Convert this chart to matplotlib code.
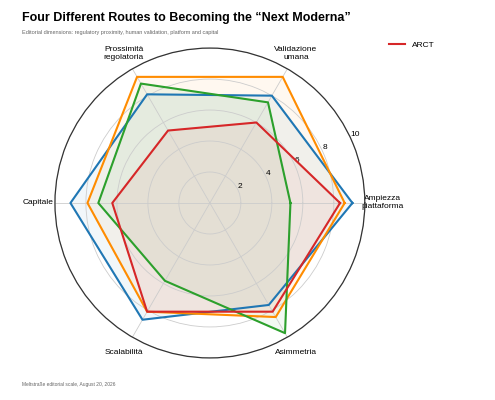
import matplotlib
matplotlib.use('Agg')
import matplotlib.pyplot as plt
import numpy as np

plt.rcParams['font.family'] = ['Liberation Sans', 'DejaVu Sans']

axes_labels = ['Ampiezza\npiattaforma', 'Validazione\numana', 'Prossimità\nregolatoria',
               'Capitale', 'Scalabilità', 'Asimmetria']
series_names = ['ARCT', 'B', 'C', 'D']
arct = [8.4, 6.0, 5.4, 6.3, 8.1, 8.1]
blue = [9.2, 8.0, 8.1, 9.0, 8.7, 7.6]
orange = [8.7, 9.4, 9.4, 7.9, 8.1, 8.5]
green = [5.2, 7.5, 8.9, 7.2, 5.8, 9.7]
colors = ['#d62728', '#1f77b4', '#ff8c00', '#2ca02c']

angles = np.deg2rad(np.arange(0, 360, 60))
fig = plt.figure(figsize=(4.95, 4.0), dpi=100)
ax = fig.add_axes([0.111, 0.105, 0.626, 0.775], polar=True)

closed = np.append(angles, angles[0])
for name, vals, c in [('B', blue, colors[1]), ('C', orange, colors[2]),
                      ('D', green, colors[3]), ('ARCT', arct, colors[0])]:
    v = np.append(vals, vals[0])
    ax.plot(closed, v, color=c, lw=1.5, label=name if name == 'ARCT' else None)
    ax.fill(closed, v, color=c, alpha=0.06)

ax.set_ylim(0, 10)
ax.set_yticks([2, 4, 6, 8, 10])
ax.set_yticklabels(['2', '4', '6', '8', '10'], fontsize=6)
ax.set_rlabel_position(25)
ax.set_xticks(angles)
ax.set_xticklabels(axes_labels, fontsize=6)
ax.tick_params(axis='x', pad=2)
ax.grid(color='#cccccc', lw=0.6)
ax.spines['polar'].set_color('#333333')
ax.spines['polar'].set_linewidth(0.9)

fig.legend(loc='upper left', bbox_to_anchor=(0.77, 0.915), frameon=False, fontsize=6)
fig.text(0.045, 0.97, 'Four Different Routes to Becoming the \u201cNext Moderna\u201d',
         fontsize=9, fontweight='bold', va='top')
fig.text(0.045, 0.925, 'Editorial dimensions: regulatory proximity, human validation, platform and capital',
         fontsize=4, color='#666666', va='top')
fig.text(0.045, 0.035, 'Meltstraße editorial scale, August 20, 2026',
         fontsize=3.5, color='#666666')
fig.savefig('out.png', dpi=100)
